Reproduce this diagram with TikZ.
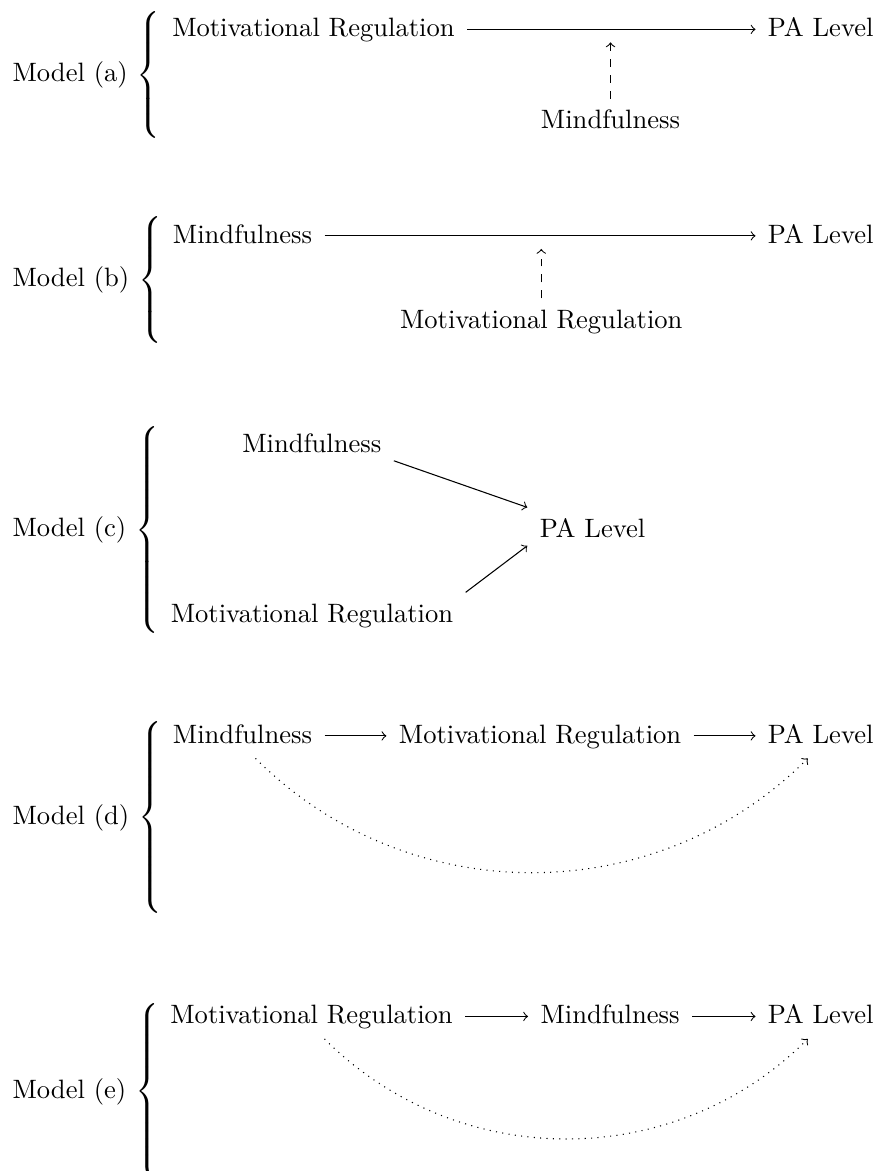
\documentclass[tikz,border=0pt]{standalone}
\usetikzlibrary{positioning}
\usetikzlibrary{calc}

\newcommand{\modellabel}[2]{#1 $\left\{\vcenter{\hbox{\rule{0pt}{#2}}}\right.$}

\tikzset{
  var/.style={inner sep=4.5pt, text height=1.5ex, text depth=.25ex, anchor=base},
  model/.style={inner sep=0pt, anchor=base west},
  modarrow/.style={->, dashed, shorten >=4.9pt},
  indirect/.style={->, dotted},
}

\begin{document}
\begin{tikzpicture}

\useasboundingbox (0,0) rectangle (11.60,-15.49);

% Model (a)
\node[model] (a-lab) at (0.16,-1.081) {\modellabel{Model (a)}{50pt}};
\node[var] (a-mr) at (4.146,-0.483) {Motivational Regulation};
\node[var] (a-pa) at (10.857,-0.483) {PA Level};
\node[var] (a-mf) at (8.076,-1.697) {Mindfulness};
\draw[->] (a-mr) -- (a-pa) coordinate[midway] (a-mid);
\draw[modarrow] (a-mf) -- (a-mf |- a-mid);

% Model (b)
\node[model] (b-lab) at (0.16,-3.793) {\modellabel{Model (b)}{50pt}};
\node[var] (b-mf) at (3.208,-3.215) {Mindfulness};
\node[var] (b-pa) at (10.857,-3.215) {PA Level};
\node[var] (b-mr) at (7.160,-4.339) {Motivational Regulation};
\draw[->] (b-mf) -- (b-pa) coordinate[midway] (b-mid);
\draw[modarrow] (b-mr) -- (b-mr |- b-mid);

% Model (c)
\node[model] (c-lab) at (0.16,-7.100) {\modellabel{Model (c)}{80pt}};
\node[var] (c-mf) at (4.125,-5.980) {Mindfulness};
\node[var] (c-pa) at (7.838,-7.104) {PA Level};
\node[var] (c-mr) at (4.127,-8.228) {Motivational Regulation};
\draw[->] ([yshift=2.5pt]c-mf.south east) -- (c-pa.north west);
\draw[->] (c-mr.north east) -- ([yshift=2.5pt]c-pa.south west);

% Model (d)
\node[model] (d-lab) at (0.16,-10.901) {\modellabel{Model (d)}{74pt}};
\node[var] (d-mf) at (3.208,-9.829) {Mindfulness};
\node[var] (d-mr) at (7.144,-9.829) {Motivational Regulation};
\node[var] (d-pa) at (10.857,-9.829) {PA Level};
\draw[->] (d-mf) -- (d-mr);
\draw[->] (d-mr) -- (d-pa);
\draw[indirect] (d-mf.-60) to[bend right=45] (d-pa.-120);

% Model (e)
\node[model] (e-lab) at (0.16,-14.525) {\modellabel{Model (e)}{68pt}};
\node[var] (e-mr) at (4.121,-13.540) {Motivational Regulation};
\node[var] (e-mf) at (8.070,-13.540) {Mindfulness};
\node[var] (e-pa) at (10.857,-13.540) {PA Level};
\draw[->] (e-mr) -- (e-mf);
\draw[->] (e-mf) -- (e-pa);
\draw[indirect] (e-mr.-60) to[bend right=45] (e-pa.-120);

\end{tikzpicture}
\end{document}
